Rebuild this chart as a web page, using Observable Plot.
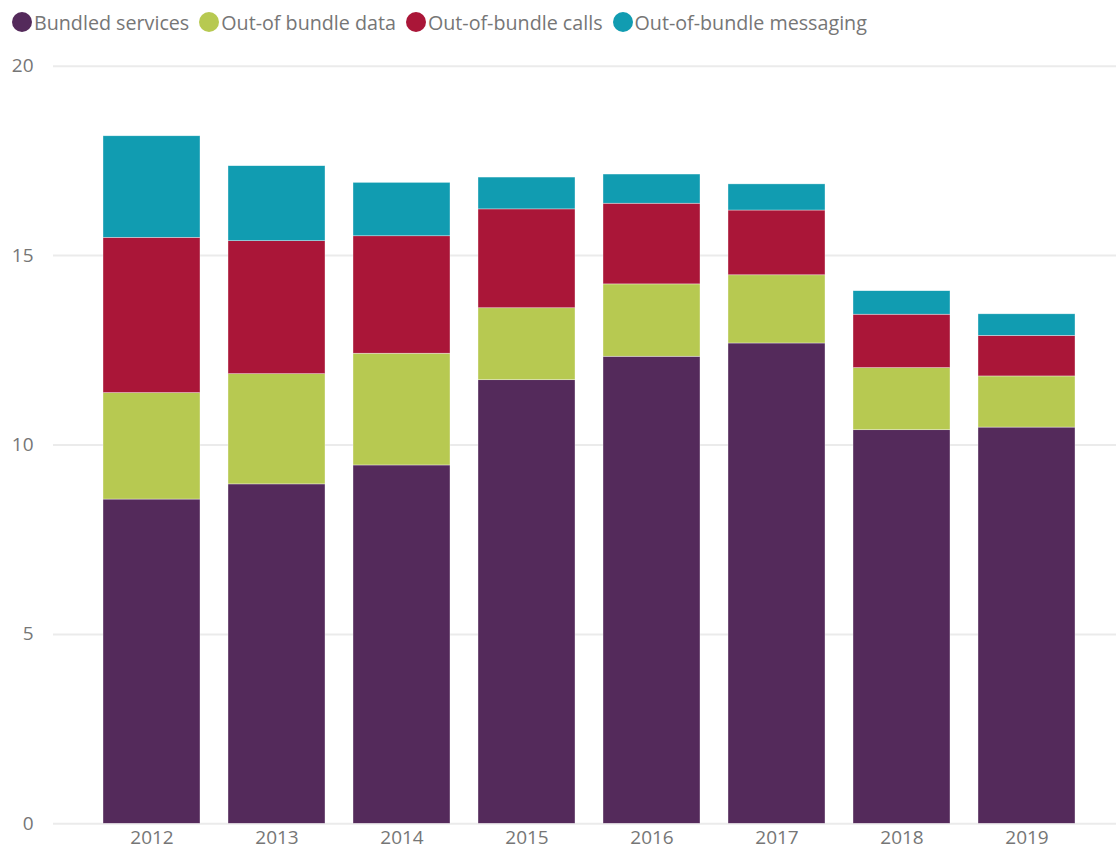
<!DOCTYPE html>
<html>
<head>
<meta charset="utf-8">
<script src="https://cdn.jsdelivr.net/npm/d3@7"></script>
<script src="https://cdn.jsdelivr.net/npm/@observablehq/plot@0.6"></script>
<style>
  html, body { margin: 0; padding: 0; background: #fff; }
  body { width: 1116px; height: 851px; overflow: hidden; font-family: "Open Sans", sans-serif; }
  #legend { height: 44px; display: flex; align-items: center; padding-left: 12px; box-sizing: border-box; }
  .item { display: flex; align-items: center; margin-right: 10px; color: #767676; font-size: 19.7px; }
  .dot { width: 20px; height: 20px; border-radius: 50%; margin-right: 2px; }
</style>
</head>
<body>
<div id="legend"></div>
<div id="chart"></div>
<script>
const years = ["2012", "2013", "2014", "2015", "2016", "2017", "2018", "2019"];
const seriesNames = ["Bundled services", "Out-of bundle data", "Out-of-bundle calls", "Out-of-bundle messaging"];
const seriesColors = ["#542a5b", "#b7c951", "#aa1638", "#119cb1"];
const bundled = [8.56, 8.96, 9.46, 11.71, 12.33, 12.68, 10.39, 10.46];
const data = [2.81, 2.91, 2.95, 1.90, 1.91, 1.80, 1.64, 1.35];
const calls = [4.10, 3.51, 3.10, 2.61, 2.13, 1.71, 1.41, 1.07];
const messaging = [2.68, 1.98, 1.41, 0.84, 0.77, 0.69, 0.62, 0.57];
const yTicks = [0, 5, 10, 15, 20];

const seriesValues = [bundled, data, calls, messaging];
const rows = [];
seriesNames.forEach((s, i) => {
  years.forEach((y, j) => rows.push({year: y, series: s, value: seriesValues[i][j]}));
});

// legend
const legend = document.getElementById("legend");
seriesNames.forEach((s, i) => {
  const item = document.createElement("div");
  item.className = "item";
  const dot = document.createElement("span");
  dot.className = "dot";
  dot.style.background = seriesColors[i];
  const label = document.createElement("span");
  label.textContent = s;
  item.appendChild(dot);
  item.appendChild(label);
  legend.appendChild(item);
});

const chart = Plot.plot({
  width: 1116,
  height: 807,
  marginLeft: 53,
  marginRight: 0,
  marginTop: 21.7,
  marginBottom: 27.7,
  style: {fontFamily: "Open Sans, sans-serif", fontSize: "19px", color: "#767676", background: "#fff"},
  x: {domain: years, range: [75, 1103], padding: 0.224, label: null},
  y: {domain: [0, 20], label: null},
  color: {domain: seriesNames, range: seriesColors},
  marks: [
    Plot.ruleY(yTicks, {stroke: "#ebebeb", strokeWidth: 2}),
    Plot.barY(rows, {x: "year", y: "value", fill: "series", order: seriesNames, stroke: "#ffffff", strokeWidth: 0.6, strokeOpacity: 0.6}),
    Plot.axisX({tickSize: 0, tickPadding: 7, fill: "#767676"}),
    Plot.axisY({ticks: yTicks, tickSize: 0, tickPadding: 20, fill: "#767676"})
  ]
});
document.getElementById("chart").appendChild(chart);
</script>
</body>
</html>
